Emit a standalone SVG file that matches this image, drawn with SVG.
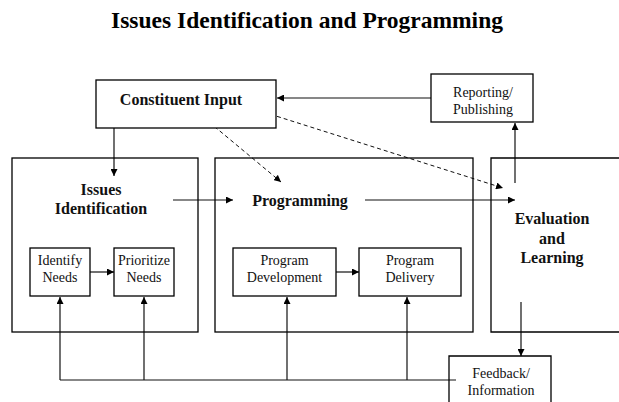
<svg xmlns="http://www.w3.org/2000/svg" width="619" height="402" viewBox="0 0 619 402">
<style>
.box{fill:#fff;stroke:#000;stroke-width:1.3}
.open{fill:none;stroke:#000;stroke-width:1.3}
.ln{fill:none;stroke:#111;stroke-width:1.2}
.dash{fill:none;stroke:#111;stroke-width:1;stroke-dasharray:4,3}
.t{font-family:"Liberation Serif","Times New Roman",serif;font-size:14px;fill:#111;text-anchor:middle}
.b{font-family:"Liberation Serif","Times New Roman",serif;font-size:16px;font-weight:bold;fill:#111;text-anchor:middle}
.title{font-family:"Liberation Serif","Times New Roman",serif;font-size:23.5px;font-weight:bold;fill:#000;text-anchor:middle}
</style>
<defs>
<marker id="ah" viewBox="0 0 10 10" refX="10" refY="5" markerWidth="7" markerHeight="7" markerUnits="userSpaceOnUse" orient="auto">
<path d="M0,0 L10,5 L0,10 z" fill="#000"/>
</marker>
</defs>
<rect width="619" height="402" fill="#fff"/>
<text class="title" x="307" y="28">Issues Identification and Programming</text>

<g id="connectors">
<line class="ln" x1="431" y1="98" x2="277" y2="98" marker-end="url(#ah)"/>
<line class="ln" x1="114" y1="122" x2="114" y2="176" marker-end="url(#ah)"/>
<line class="dash" x1="209" y1="122" x2="281" y2="182" marker-end="url(#ah)"/>
<line class="dash" x1="257" y1="110" x2="503" y2="188" marker-end="url(#ah)"/>
<line class="ln" x1="173" y1="200" x2="233" y2="200" marker-end="url(#ah)"/>
<line class="ln" x1="365" y1="200" x2="515" y2="200" marker-end="url(#ah)"/>
<line class="ln" x1="515" y1="183" x2="515" y2="123" marker-end="url(#ah)"/>
<line class="ln" x1="521" y1="302" x2="521" y2="356" marker-end="url(#ah)"/>
<line class="ln" x1="90" y1="272" x2="114" y2="272" marker-end="url(#ah)"/>
<line class="ln" x1="336" y1="272" x2="359" y2="272" marker-end="url(#ah)"/>
<polyline class="ln" points="456,380 60,380"/>
<line class="ln" x1="60" y1="380" x2="60" y2="297" marker-end="url(#ah)"/>
<line class="ln" x1="144" y1="380" x2="144" y2="297" marker-end="url(#ah)"/>
<line class="ln" x1="287" y1="380" x2="287" y2="297" marker-end="url(#ah)"/>
<line class="ln" x1="407" y1="380" x2="407" y2="297" marker-end="url(#ah)"/>
</g>

<g id="constituent-input">
<rect class="box" x="96" y="80" width="180" height="48"/>
<text class="b" x="181" y="105">Constituent Input</text>
</g>
<g id="reporting-publishing">
<rect class="box" x="431" y="74" width="102" height="48"/>
<text class="t" x="483" y="97">Reporting/</text>
<text class="t" x="483" y="114">Publishing</text>
</g>
<g id="issues-identification">
<rect class="open" x="12" y="158" width="186" height="174"/>
<text class="b" x="101" y="195">Issues</text>
<text class="b" x="101" y="214">Identification</text>
</g>
<g id="programming">
<rect class="open" x="215" y="158" width="258" height="174"/>
<text class="b" x="300" y="206">Programming</text>
</g>
<g id="evaluation-learning">
<path class="open" d="M619,158 H491 V332 H619"/>
<text class="b" x="552" y="224">Evaluation</text>
<text class="b" x="552" y="244">and</text>
<text class="b" x="552" y="263">Learning</text>
</g>
<g id="identify-needs">
<rect class="box" x="30" y="248" width="60" height="48"/>
<text class="t" x="60" y="265">Identify</text>
<text class="t" x="60" y="282">Needs</text>
</g>
<g id="prioritize-needs">
<rect class="box" x="114" y="248" width="60" height="48"/>
<text class="t" x="144" y="265">Prioritize</text>
<text class="t" x="144" y="282">Needs</text>
</g>
<g id="program-development">
<rect class="box" x="233" y="248" width="103" height="48"/>
<text class="t" x="284.5" y="265">Program</text>
<text class="t" x="284.5" y="282">Development</text>
</g>
<g id="program-delivery">
<rect class="box" x="359" y="248" width="102" height="48"/>
<text class="t" x="410" y="265">Program</text>
<text class="t" x="410" y="282">Delivery</text>
</g>
<g id="feedback-information">
<path class="open" d="M449,403 V356 H551 V403"/>
<text class="t" x="501" y="378">Feedback/</text>
<text class="t" x="501" y="395">Information</text>
</g>
</svg>
